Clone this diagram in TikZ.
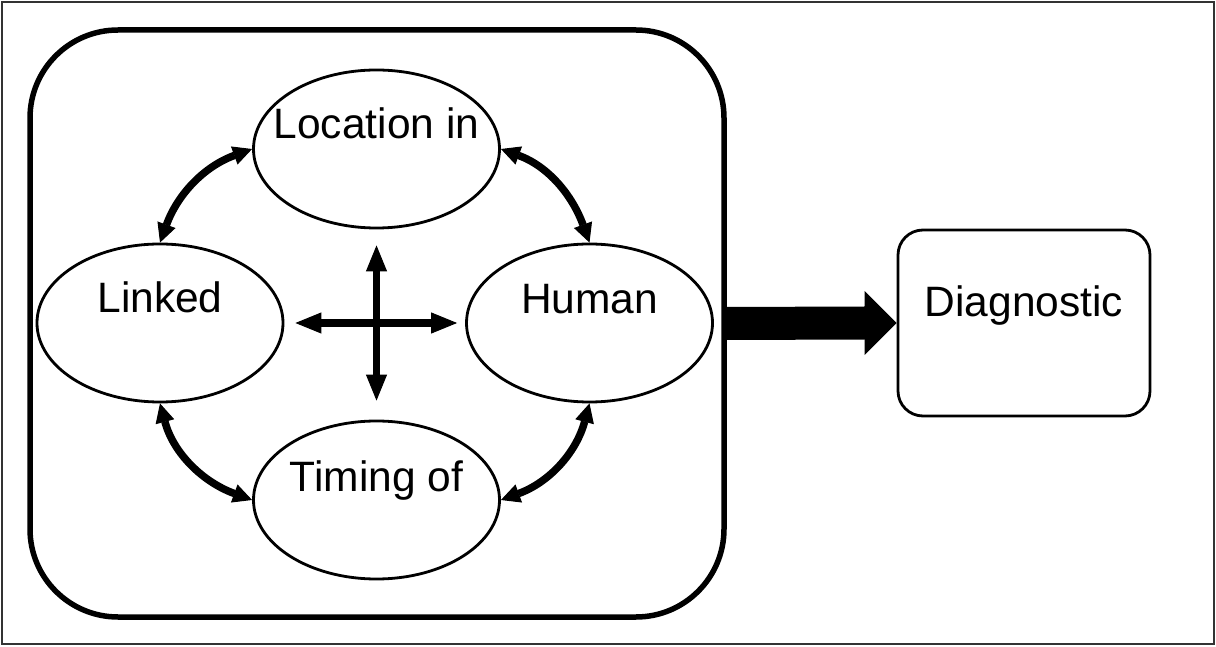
\documentclass[tikz,border=0pt]{standalone}
\usepackage{fontspec}
\setmainfont{Liberation Sans}
\usetikzlibrary{arrows.meta,shapes.geometric,calc}
\begin{document}
\begin{tikzpicture}[x=1pt,y=1pt,
  ell/.style={ellipse, draw, line width=2.8pt, minimum width=246pt, minimum height=158pt, inner sep=0pt},
  lbl/.style={anchor=base, inner sep=0pt, font=\fontsize{42.5}{50}\selectfont},
  curv/.style={line width=7.5pt, {Triangle[length=19pt,width=19pt,line width=1pt]}-{Triangle[length=19pt,width=19pt,line width=1pt]}},
  crossarr/.style={line width=7.5pt, {Triangle[length=26pt,width=21pt,line width=1pt]}-{Triangle[length=26pt,width=21pt,line width=1pt]}}]
\useasboundingbox (0,0) rectangle (1216,646);
\node[draw, black!80, line width=2.5pt, minimum width=1212pt, minimum height=642pt, inner sep=0pt] (frame) at (608,323) {};
\node[draw, line width=5.5pt, rounded corners=88pt, minimum width=694pt, minimum height=587pt, inner sep=0pt] (panel) at (377,322.5) {};
\node[ell] (top) at (376.5,497) {};
\node[ell] (left) at (160,323) {};
\node[ell] (right) at (589.5,323) {};
\node[ell] (bottom) at (376.5,146) {};
\node[draw, line width=2.8pt, rounded corners=25pt, minimum width=252pt, minimum height=186pt, inner sep=0pt] (diag) at (1024,323) {};
\node[lbl] (ttop) at (376.5,507) {Location in};
\node[lbl] (tleft) at (160,333) {Linked};
\node[lbl] (tright) at (589.5,332) {Human};
\node[lbl] (tbottom) at (376.5,155) {Timing of};
\node[lbl] (tdiag) at (1024,329) {Diagnostic};
\draw[curv] (left.north) to[out=70,in=200] (top.west);
\draw[curv] (top.east) to[out=-20,in=110] (right.north);
\draw[curv] (left.south) to[out=-75,in=160] (bottom.west);
\draw[curv] (right.south) to[out=-105,in=20] (bottom.east);
\draw[crossarr, shorten <=11pt, shorten >=8pt] (left.east) -- (right.west);
\draw[crossarr, shorten <=16pt, shorten >=19pt] (top.south) -- (bottom.north);
\fill ($(panel.east)+(0,16.5)$) -- ($(diag.west)+(-32,16.5)$) -- ($(diag.west)+(-32,32)$) -- (diag.west) -- ($(diag.west)+(-32,-32)$) -- ($(diag.west)+(-32,-16.5)$) -- ($(panel.east)+(0,-16.5)$) -- cycle;
\end{tikzpicture}
\end{document}
